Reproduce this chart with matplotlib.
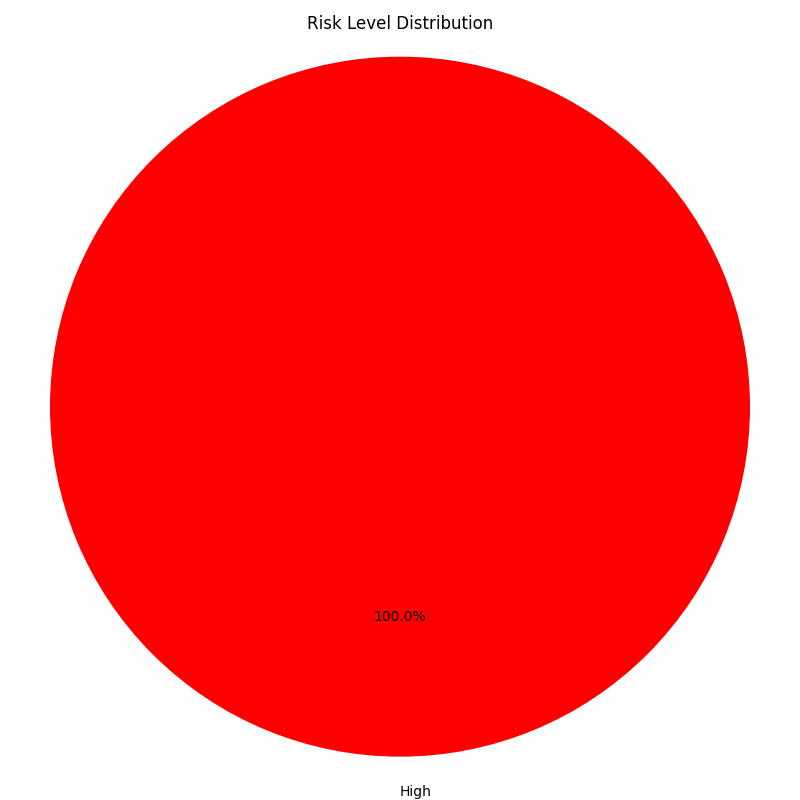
import matplotlib
matplotlib.use('Agg')
from matplotlib import pyplot as plt

niveles = ['High']
cantidades = [1]
colores = ['red']

plt.figure(figsize=(8, 8))
plt.pie(cantidades, labels=niveles, colors=colores, autopct='%1.1f%%', startangle=90)
plt.title('Risk Level Distribution')
plt.axis('equal')
plt.tight_layout()
plt.savefig('out.png', dpi=100)
